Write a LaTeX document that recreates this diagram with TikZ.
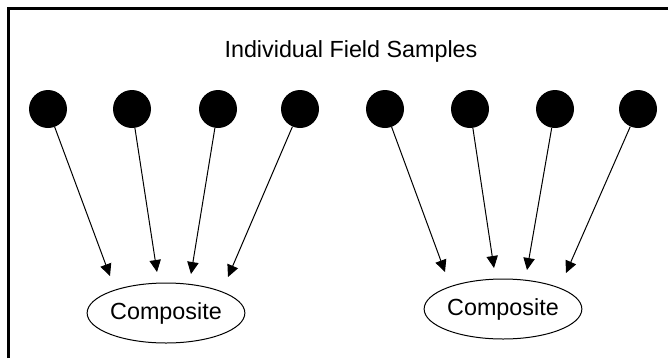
\documentclass[tikz,border=0pt]{standalone}
\usepackage{fontspec}
\setmainfont{Liberation Sans}
\usetikzlibrary{shapes.geometric,arrows.meta}

\begin{document}
\begin{tikzpicture}[x=0.75pt,y=-0.75pt,
                    sample/.style={circle,fill=black,minimum size=28.5pt,inner sep=0pt},
                    composite/.style={ellipse,draw,line width=0.75pt,minimum width=115.5pt,minimum height=45pt,inner sep=0pt,font=\fontsize{17.5}{21}\selectfont},
                    feed/.style={line width=0.75pt,-{Triangle[length=9pt,width=8.5pt]}},
                    frame/.style={line width=2.25pt}]
      \useasboundingbox (0,0) rectangle (668,358);
      \draw[frame] (8.5,358) -- (8.5,8.5) -- (668,8.5);

      \node[font=\fontsize{17.5}{21}\selectfont] (title) at (351,51) {Individual Field Samples};

      % samples and arrow tips, left group then right group
      \foreach[count=\i] \sx/\tx/\ty in {48/110/276,132/157/272,218/191/274,300/228/277,
                                         385/445/272,470/494/268,555/527/270,638/566/273} {
        \node[sample] (s\i) at (\sx,109) {};
        \coordinate (t\i) at (\tx,\ty);
      }

      \node[composite] (comp1) at (166,313) {Composite};
      \node[composite] (comp2) at (503,309) {Composite};

      \foreach \i in {1,...,8} {
        \draw[feed] (s\i) -- (t\i);
      }
    \end{tikzpicture}
\end{document}
